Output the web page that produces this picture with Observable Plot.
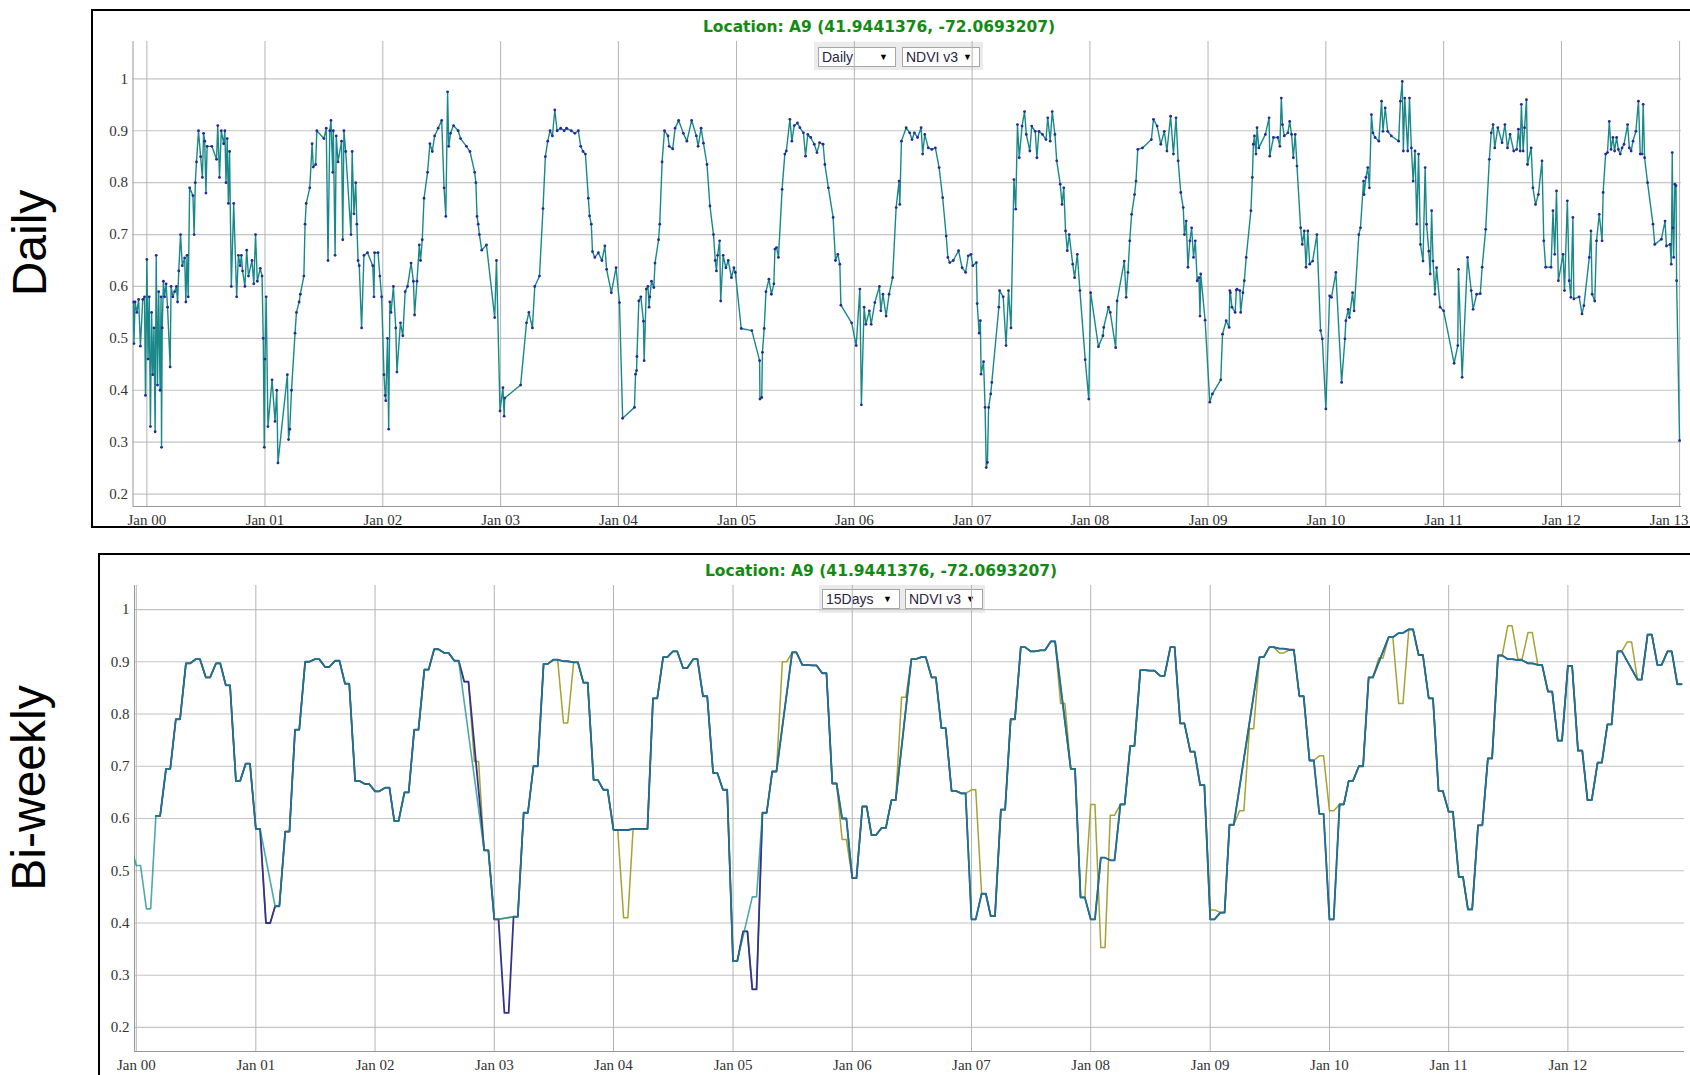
<!DOCTYPE html>
<html><head><meta charset="utf-8">
<script src="https://cdn.jsdelivr.net/npm/d3@7"></script>
<script src="https://cdn.jsdelivr.net/npm/@observablehq/plot@0.6"></script>
<style>
html,body{margin:0;padding:0;background:#fff}
body{width:1690px;height:1075px;overflow:hidden;position:relative;font-family:"Liberation Sans",Arial,sans-serif}
.panel{position:absolute;border:2px solid #000;box-sizing:border-box;background:#fff}
.side{position:absolute;font-family:"Liberation Sans",Arial,sans-serif;font-size:48px;line-height:48px;height:48px;color:#000;white-space:nowrap;transform:translate(-50%,-50%) rotate(-90deg)}
.title{position:absolute;font-family:"DejaVu Sans",Verdana,sans-serif;font-weight:bold;font-size:15.5px;line-height:18px;color:#138a13;white-space:nowrap;transform:translateX(-50%)}
.dd{position:absolute;background:#ebebeb}
.sel{position:absolute;border:1px solid #a6a6a6;background:#fff;font-family:"Liberation Sans",Arial,sans-serif;font-size:14px;line-height:18px;color:#2a2440;box-sizing:border-box;padding-left:3px;white-space:nowrap}
.sel span{position:absolute;right:7px;top:0;font-size:9px;color:#000}
.chart{position:absolute}
</style>
</head><body>
<div class="panel" style="left:91px;top:9px;width:1700px;height:519px"></div>
<div class="panel" style="left:98px;top:553px;width:1700px;height:540px"></div>
<div class="side" style="left:30px;top:243px">Daily</div>
<div class="side" style="left:29px;top:788px">Bi-weekly</div>
<div class="title" style="left:879px;top:18px">Location: A9 (41.9441376, -72.0693207)</div>
<div class="title" style="left:881px;top:562px">Location: A9 (41.9441376, -72.0693207)</div>
<div class="dd" style="left:814px;top:42px;width:169px;height:28px"></div>
<div class="sel" style="left:818px;top:47px;width:78px;height:20px">Daily<span>▼</span></div>
<div class="sel" style="left:902px;top:47px;width:78px;height:20px">NDVI v3<span>▼</span></div>
<div class="dd" style="left:819px;top:585px;width:166px;height:28px"></div>
<div class="sel" style="left:822px;top:589px;width:78px;height:20px">15Days<span>▼</span></div>
<div class="sel" style="left:905px;top:589px;width:78px;height:20px">NDVI v3<span>▼</span></div>
<div id="top" class="chart" style="left:94px;top:12px"></div>
<div id="bottom" class="chart" style="left:101px;top:556px"></div>
<script>
// ---------- Daily NDVI: [fractional year, NDVI] ----------
const daily2000 = [[1999.885,0.57],[1999.89,0.49],[1999.90,0.57],[1999.915,0.55],[1999.93,0.575],[1999.945,0.485],[1999.965,0.575],[1999.98,0.58],[1999.988,0.39],[2000.0,0.652],[2000.01,0.46],[2000.02,0.58],[2000.03,0.33],[2000.04,0.55],[2000.05,0.43],[2000.06,0.52],[2000.07,0.32],[2000.079,0.66],[2000.09,0.41],[2000.10,0.59],[2000.112,0.40],[2000.12,0.58],[2000.124,0.29],[2000.13,0.52],[2000.14,0.61],[2000.15,0.58],[2000.163,0.605],[2000.175,0.56],[2000.197,0.445],[2000.205,0.60],[2000.22,0.58],[2000.235,0.59],[2000.25,0.60],[2000.26,0.57],[2000.27,0.63],[2000.285,0.70],[2000.30,0.64],[2000.32,0.655],[2000.33,0.57],[2000.34,0.66],[2000.35,0.58],[2000.362,0.79],[2000.39,0.775],[2000.40,0.70],[2000.41,0.80],[2000.42,0.84],[2000.437,0.90],[2000.455,0.85],[2000.47,0.81],[2000.48,0.895],[2000.49,0.88],[2000.50,0.78],[2000.51,0.87],[2000.55,0.87],[2000.59,0.845],[2000.60,0.91],[2000.615,0.81],[2000.63,0.90],[2000.65,0.875],[2000.66,0.90],[2000.67,0.80],[2000.68,0.885],[2000.69,0.76],[2000.70,0.86],[2000.715,0.60],[2000.735,0.76],[2000.76,0.58],[2000.775,0.66],[2000.79,0.64],[2000.80,0.66],[2000.81,0.63],[2000.83,0.60],[2000.845,0.67],[2000.86,0.62],[2000.89,0.65],[2000.905,0.605],[2000.92,0.70],[2000.935,0.61],[2000.96,0.635],[2000.975,0.62],[2000.985,0.50],[2000.994,0.29]];
const daily2001 = [[2001.0,0.46],[2001.01,0.58],[2001.025,0.33],[2001.06,0.42],[2001.085,0.34],[2001.10,0.40],[2001.11,0.26],[2001.19,0.43],[2001.20,0.305],[2001.21,0.325],[2001.225,0.40],[2001.255,0.51],[2001.267,0.55],[2001.29,0.57],[2001.30,0.585],[2001.33,0.62],[2001.34,0.72],[2001.35,0.76],[2001.38,0.79],[2001.40,0.875],[2001.41,0.83],[2001.43,0.835],[2001.44,0.90],[2001.50,0.885],[2001.52,0.905],[2001.535,0.65],[2001.55,0.90],[2001.56,0.92],[2001.575,0.82],[2001.58,0.90],[2001.595,0.66],[2001.605,0.89],[2001.62,0.84],[2001.65,0.88],[2001.66,0.69],[2001.67,0.90],[2001.685,0.86],[2001.73,0.70],[2001.74,0.86],[2001.755,0.74],[2001.77,0.80],[2001.78,0.72],[2001.79,0.65],[2001.80,0.64],[2001.82,0.52],[2001.84,0.66],[2001.87,0.665],[2001.915,0.64],[2001.925,0.58],[2001.93,0.665],[2001.96,0.665],[2001.975,0.62],[2001.99,0.58]];
const daily2002 = [[2002.01,0.43],[2002.02,0.39],[2002.025,0.38],[2002.04,0.50],[2002.05,0.325],[2002.06,0.57],[2002.07,0.55],[2002.09,0.60],[2002.11,0.52],[2002.12,0.435],[2002.15,0.53],[2002.17,0.505],[2002.19,0.59],[2002.21,0.60],[2002.24,0.645],[2002.26,0.61],[2002.27,0.545],[2002.29,0.61],[2002.31,0.68],[2002.32,0.65],[2002.335,0.69],[2002.35,0.77],[2002.38,0.82],[2002.40,0.875],[2002.42,0.86],[2002.44,0.89],[2002.47,0.905],[2002.50,0.92],[2002.52,0.79],[2002.535,0.735],[2002.55,0.975],[2002.56,0.87],[2002.575,0.895],[2002.60,0.91],[2002.64,0.90],[2002.66,0.885],[2002.71,0.87],[2002.74,0.86],[2002.78,0.82],[2002.79,0.80],[2002.80,0.735],[2002.81,0.72],[2002.82,0.70],[2002.84,0.67],[2002.88,0.68],[2002.95,0.54],[2002.965,0.65],[2002.995,0.36]];
const daily2003 = [[2003.02,0.405],[2003.03,0.35],[2003.035,0.385],[2003.17,0.41],[2003.22,0.53],[2003.24,0.55],[2003.27,0.52],[2003.29,0.60],[2003.33,0.62],[2003.36,0.75],[2003.38,0.85],[2003.40,0.88],[2003.42,0.90],[2003.44,0.89],[2003.46,0.94],[2003.48,0.90],[2003.51,0.905],[2003.54,0.90],[2003.56,0.905],[2003.60,0.90],[2003.63,0.895],[2003.66,0.90],[2003.68,0.87],[2003.70,0.86],[2003.72,0.855],[2003.745,0.77],[2003.755,0.736],[2003.77,0.72],[2003.78,0.667],[2003.80,0.656],[2003.83,0.665],[2003.86,0.65],[2003.885,0.678],[2003.90,0.633],[2003.94,0.588],[2003.98,0.636]];
const daily2004 = [[2004.009,0.569],[2004.036,0.346],[2004.136,0.367],[2004.145,0.431],[2004.154,0.438],[2004.157,0.465],[2004.173,0.572],[2004.19,0.58],[2004.212,0.533],[2004.218,0.457],[2004.236,0.595],[2004.25,0.60],[2004.26,0.56],[2004.266,0.58],[2004.28,0.61],[2004.30,0.598],[2004.31,0.645],[2004.34,0.69],[2004.35,0.72],[2004.37,0.84],[2004.39,0.90],[2004.42,0.89],[2004.43,0.87],[2004.46,0.865],[2004.48,0.905],[2004.51,0.92],[2004.55,0.895],[2004.58,0.88],[2004.62,0.92],[2004.66,0.89],[2004.675,0.87],[2004.70,0.905],[2004.72,0.876],[2004.75,0.835],[2004.775,0.755],[2004.805,0.70],[2004.82,0.65],[2004.83,0.63],[2004.84,0.66],[2004.857,0.688],[2004.866,0.572],[2004.887,0.66],[2004.91,0.636],[2004.93,0.65],[2004.957,0.617],[2004.978,0.636],[2004.99,0.627]];
const daily2005 = [[2005.04,0.519],[2005.13,0.515],[2005.196,0.457],[2005.199,0.383],[2005.214,0.386],[2005.22,0.473],[2005.235,0.519],[2005.25,0.59],[2005.275,0.614],[2005.296,0.585],[2005.317,0.605],[2005.326,0.672],[2005.34,0.675],[2005.356,0.656],[2005.387,0.787],[2005.41,0.855],[2005.423,0.861],[2005.453,0.922],[2005.47,0.88],[2005.49,0.91],[2005.517,0.915],[2005.538,0.906],[2005.568,0.896],[2005.586,0.851],[2005.605,0.893],[2005.63,0.887],[2005.66,0.874],[2005.683,0.858],[2005.705,0.877],[2005.735,0.874],[2005.75,0.835],[2005.78,0.79],[2005.82,0.733],[2005.84,0.65],[2005.86,0.662],[2005.877,0.643],[2005.886,0.564],[2005.977,0.53]];
const daily2006 = [[2006.016,0.486],[2006.047,0.595],[2006.06,0.372],[2006.083,0.56],[2006.098,0.527],[2006.128,0.553],[2006.143,0.527],[2006.174,0.569],[2006.213,0.60],[2006.225,0.553],[2006.243,0.585],[2006.27,0.543],[2006.295,0.585],[2006.325,0.617],[2006.355,0.752],[2006.38,0.803],[2006.386,0.758],[2006.40,0.88],[2006.44,0.906],[2006.47,0.896],[2006.49,0.883],[2006.51,0.896],[2006.537,0.887],[2006.567,0.906],[2006.58,0.855],[2006.598,0.893],[2006.628,0.867],[2006.658,0.864],[2006.688,0.867],[2006.72,0.829],[2006.75,0.771],[2006.78,0.697],[2006.794,0.656],[2006.81,0.646],[2006.84,0.65],[2006.885,0.669],[2006.915,0.636],[2006.945,0.627],[2006.967,0.659],[2006.99,0.662]];
const daily2007 = [[2007.006,0.64],[2007.036,0.646],[2007.043,0.567],[2007.06,0.51],[2007.07,0.534],[2007.076,0.431],[2007.097,0.455],[2007.11,0.367],[2007.12,0.251],[2007.13,0.261],[2007.14,0.367],[2007.158,0.393],[2007.167,0.415],[2007.227,0.56],[2007.233,0.592],[2007.264,0.58],[2007.288,0.486],[2007.309,0.592],[2007.33,0.52],[2007.355,0.806],[2007.37,0.749],[2007.385,0.912],[2007.40,0.848],[2007.424,0.909],[2007.445,0.937],[2007.46,0.893],[2007.49,0.861],[2007.506,0.909],[2007.536,0.899],[2007.55,0.848],[2007.567,0.899],[2007.597,0.893],[2007.627,0.883],[2007.642,0.925],[2007.663,0.88],[2007.68,0.937],[2007.703,0.893],[2007.718,0.842],[2007.748,0.797],[2007.763,0.758],[2007.778,0.79],[2007.793,0.707],[2007.808,0.669],[2007.824,0.70],[2007.854,0.643],[2007.87,0.617],[2007.893,0.662],[2007.915,0.592],[2007.96,0.459],[2007.99,0.383]];
const daily2008 = [[2008.006,0.588],[2008.072,0.484],[2008.11,0.505],[2008.117,0.521],[2008.157,0.56],[2008.172,0.55],[2008.218,0.482],[2008.23,0.572],[2008.291,0.649],[2008.307,0.579],[2008.322,0.627],[2008.337,0.688],[2008.353,0.739],[2008.378,0.777],[2008.39,0.803],[2008.405,0.864],[2008.445,0.867],[2008.52,0.883],[2008.538,0.922],[2008.569,0.909],[2008.60,0.874],[2008.63,0.899],[2008.652,0.861],[2008.683,0.928],[2008.707,0.855],[2008.729,0.925],[2008.747,0.842],[2008.769,0.781],[2008.79,0.752],[2008.80,0.70],[2008.815,0.726],[2008.83,0.637],[2008.846,0.688],[2008.861,0.713],[2008.877,0.656],[2008.892,0.688],[2008.908,0.611],[2008.923,0.617],[2008.932,0.543],[2008.938,0.624],[2008.975,0.535]];
const daily2009 = [[2009.015,0.377],[2009.037,0.393],[2009.108,0.42],[2009.123,0.508],[2009.154,0.534],[2009.179,0.521],[2009.185,0.592],[2009.19,0.588],[2009.203,0.56],[2009.23,0.55],[2009.24,0.593],[2009.246,0.595],[2009.27,0.592],[2009.277,0.55],[2009.296,0.588],[2009.308,0.611],[2009.324,0.656],[2009.364,0.746],[2009.376,0.81],[2009.385,0.874],[2009.394,0.89],[2009.407,0.855],[2009.416,0.906],[2009.431,0.867],[2009.487,0.893],[2009.518,0.925],[2009.524,0.851],[2009.555,0.887],[2009.592,0.887],[2009.61,0.87],[2009.622,0.963],[2009.632,0.912],[2009.647,0.89],[2009.678,0.896],[2009.693,0.918],[2009.709,0.893],[2009.724,0.848],[2009.74,0.893],[2009.755,0.832],[2009.786,0.713],[2009.80,0.681],[2009.817,0.707],[2009.832,0.637],[2009.847,0.707],[2009.863,0.643],[2009.888,0.649],[2009.924,0.70],[2009.955,0.515],[2009.97,0.499]];
const daily2010 = [[2010.0,0.364],[2010.032,0.582],[2010.048,0.579],[2010.085,0.627],[2010.134,0.415],[2010.162,0.499],[2010.17,0.534],[2010.19,0.556],[2010.20,0.54],[2010.227,0.588],[2010.24,0.553],[2010.28,0.70],[2010.294,0.713],[2010.32,0.803],[2010.325,0.777],[2010.34,0.81],[2010.356,0.829],[2010.37,0.79],[2010.387,0.931],[2010.40,0.896],[2010.418,0.887],[2010.45,0.88],[2010.473,0.957],[2010.485,0.899],[2010.504,0.944],[2010.525,0.899],[2010.556,0.89],[2010.618,0.88],[2010.633,0.957],[2010.649,0.995],[2010.658,0.861],[2010.67,0.963],[2010.695,0.861],[2010.71,0.963],[2010.726,0.867],[2010.741,0.803],[2010.757,0.861],[2010.772,0.72],[2010.787,0.855],[2010.803,0.681],[2010.825,0.649],[2010.843,0.829],[2010.855,0.72],[2010.874,0.668],[2010.886,0.624],[2010.898,0.746],[2010.91,0.649],[2010.926,0.585],[2010.94,0.636],[2010.97,0.56]];
const daily2011 = [[2011.0,0.553],[2011.089,0.452],[2011.12,0.486],[2011.126,0.633],[2011.157,0.425],[2011.203,0.656],[2011.234,0.592],[2011.25,0.556],[2011.28,0.585],[2011.311,0.586],[2011.327,0.637],[2011.357,0.71],[2011.388,0.845],[2011.404,0.896],[2011.42,0.912],[2011.434,0.867],[2011.46,0.906],[2011.496,0.877],[2011.52,0.912],[2011.542,0.867],[2011.564,0.893],[2011.595,0.861],[2011.62,0.864],[2011.635,0.903],[2011.65,0.861],[2011.66,0.951],[2011.675,0.861],[2011.687,0.906],[2011.703,0.96],[2011.712,0.835],[2011.743,0.867],[2011.758,0.79],[2011.78,0.758],[2011.804,0.777],[2011.835,0.842],[2011.85,0.688],[2011.866,0.637],[2011.912,0.637],[2011.928,0.746],[2011.943,0.662],[2011.958,0.784],[2011.974,0.611]];
const daily2012 = [[2012.014,0.662],[2012.026,0.592],[2012.05,0.765],[2012.066,0.611],[2012.08,0.579],[2012.097,0.733],[2012.105,0.576],[2012.15,0.58],[2012.174,0.547],[2012.19,0.563],[2012.236,0.656],[2012.25,0.707],[2012.26,0.585],[2012.282,0.572],[2012.297,0.688],[2012.32,0.739],[2012.344,0.688],[2012.353,0.781],[2012.374,0.855],[2012.39,0.858],[2012.405,0.918],[2012.42,0.864],[2012.436,0.887],[2012.45,0.861],[2012.467,0.887],[2012.482,0.864],[2012.498,0.855],[2012.513,0.867],[2012.53,0.874],[2012.56,0.912],[2012.575,0.867],[2012.59,0.861],[2012.606,0.88],[2012.63,0.899],[2012.652,0.957],[2012.667,0.855],[2012.683,0.855],[2012.692,0.951],[2012.704,0.848],[2012.729,0.80],[2012.775,0.72],[2012.79,0.681],[2012.846,0.691],[2012.877,0.726],[2012.889,0.678],[2012.92,0.681],[2012.93,0.643],[2012.938,0.858],[2012.944,0.713],[2012.95,0.656],[2012.96,0.797],[2012.97,0.794],[2012.975,0.611],[2013.0,0.303]];

// ---------- Bi-weekly NDVI, one composite per month, first = Dec 1999 ----------
const biweeklyStart = [1999, 11]; // year, month index of first composite
const seriesTeal = [0.55,
  0.51,0.427,0.605,0.695,0.79,0.897,0.905,0.87,0.897,0.855,0.672,0.705,
  0.58,null,0.432,0.575,0.77,0.90,0.905,0.89,0.902,0.858,0.672,0.666,
  0.652,0.659,0.595,0.65,0.77,0.885,0.924,0.917,0.902,null,null,0.539,
  0.407,null,0.412,0.611,0.70,0.896,0.904,0.901,0.899,0.86,0.674,0.655,
  0.578,0.578,0.58,0.58,0.83,0.909,0.92,0.888,0.905,0.834,0.687,0.655,
  0.327,null,0.45,0.611,0.69,null,0.918,0.894,0.893,0.878,0.667,0.60,
  0.486,0.623,0.568,0.582,0.635,null,0.905,0.909,0.87,0.773,0.653,0.648,
  0.407,0.456,0.413,0.617,0.79,0.928,0.92,0.922,0.939,null,0.695,0.449,
  0.407,0.525,0.52,0.627,0.739,0.884,0.883,0.873,0.928,0.782,0.728,0.664,
  0.407,0.42,0.588,null,null,0.909,0.928,0.925,0.923,0.834,0.711,0.609,
  0.407,0.627,0.672,0.70,0.87,null,0.947,0.955,0.962,0.913,0.83,0.653,
  0.613,0.488,0.426,0.587,0.715,0.912,0.905,0.903,0.897,0.894,0.843,0.749,
  0.892,0.73,0.635,0.707,0.78,0.92,null,0.866,0.952,0.894,0.92,0.857];
const seriesPurple = [null,
  null,null,0.605,0.695,0.79,0.897,0.905,0.87,0.897,0.855,0.672,0.705,
  0.58,0.40,0.432,0.575,0.77,0.90,0.905,0.89,0.902,0.858,0.672,0.666,
  0.652,0.659,0.595,0.65,0.77,0.885,0.924,0.917,0.902,0.862,null,0.539,
  0.407,0.228,0.412,0.611,0.70,0.896,0.904,0.901,0.899,0.86,0.674,0.655,
  0.578,0.578,0.58,0.58,0.83,0.909,0.92,0.888,0.905,0.834,0.687,0.655,
  0.327,0.384,0.273,0.611,0.69,null,0.918,0.894,0.893,0.878,0.667,0.60,
  0.486,0.623,0.568,0.582,0.635,null,0.905,0.909,0.87,0.773,0.653,0.648,
  0.407,0.456,0.413,0.617,0.79,0.928,0.92,0.922,0.939,null,0.695,0.449,
  0.407,0.525,0.52,0.627,0.739,0.884,0.883,0.873,0.928,0.782,0.728,0.664,
  0.407,0.42,0.588,null,null,0.909,0.928,0.925,0.923,0.834,0.711,0.609,
  0.407,0.627,0.672,0.70,0.87,null,0.947,0.955,0.962,0.913,0.83,0.653,
  0.613,0.488,0.426,0.587,0.715,0.912,0.905,0.903,0.897,0.894,0.843,0.749,
  0.892,0.73,0.635,0.707,0.78,0.92,null,0.866,0.952,0.894,0.92,0.857];
const seriesOlive = [null,
  null,null,0.605,0.695,0.79,0.897,0.905,0.87,0.897,0.855,0.672,0.705,
  0.58,0.40,0.432,0.575,0.77,0.90,0.905,0.89,0.902,0.858,0.672,0.666,
  0.652,0.659,0.595,0.65,0.77,0.885,0.924,0.917,0.902,0.862,0.709,0.539,
  0.407,null,0.412,0.611,0.70,0.896,0.904,0.783,0.899,0.86,0.674,0.655,
  0.578,0.41,0.58,0.58,0.83,0.909,0.92,0.888,0.905,0.834,0.687,0.655,
  0.327,0.384,0.273,0.611,0.69,0.90,0.918,0.894,0.893,0.878,0.667,0.56,
  0.486,0.623,0.568,0.582,0.635,0.832,0.905,0.909,0.87,0.773,0.653,0.648,
  0.655,0.456,0.413,0.617,0.79,0.928,0.92,0.922,0.939,0.82,0.695,0.449,
  0.627,0.353,0.606,0.627,0.739,0.884,0.883,0.873,0.928,0.782,0.728,0.664,
  0.425,0.42,0.588,0.615,0.772,0.909,0.928,0.917,0.923,0.834,0.711,0.72,
  0.615,0.627,0.672,0.70,0.87,0.907,0.947,0.82,0.962,0.913,0.83,0.653,
  0.613,0.488,0.426,0.587,0.715,0.912,0.969,0.905,0.956,0.894,0.843,0.749,
  0.892,0.73,0.635,0.707,0.78,0.92,0.938,0.866,0.952,0.894,0.92,0.857];

const yTicks = [0.2,0.3,0.4,0.5,0.6,0.7,0.8,0.9,1];
const tickYearsTop = [2000,2001,2002,2003,2004,2005,2006,2007,2008,2009,2010,2011,2012];
const lastTickYearTop = 2013;
const tickYearsBottom = [2000,2001,2002,2003,2004,2005,2006,2007,2008,2009,2010,2011,2012];

// ---------- helpers ----------
function fracYear(t){const y=Math.floor(t+1e-9);const a=Date.UTC(y,0,1),b=Date.UTC(y+1,0,1);return new Date(a+(t-y)*(b-a));}
const dailyRows = [daily2000,daily2001,daily2002,daily2003,daily2004,daily2005,daily2006,daily2007,daily2008,daily2009,daily2010,daily2011,daily2012]
  .flat().map(([t,v])=>({date:fracYear(t),v}));
function composites(arr){
  const out=[];
  arr.forEach((v,i)=>{
    if(v==null) return;
    const m=biweeklyStart[1]+i; const y=biweeklyStart[0]+Math.floor(m/12); const mm=m%12;
    out.push({date:new Date(Date.UTC(y,mm,1)),v});
    out.push({date:new Date(Date.UTC(y,mm,14)),v});
  });
  return out;
}
const fmt = d3.utcFormat("%b %y");
const yFmt = d => String(+d.toFixed(1));
const jan = y => new Date(Date.UTC(y,0,1));
const serif = "Liberation Serif, Times New Roman, serif";

// ---------- top: Daily ----------
const topDomain=[new Date(Date.UTC(1999,10,19)), new Date(Date.UTC(2013,0,7))];
const topY=[0.176,1.072];
const topPlot = Plot.plot({
  width:1596, height:513,
  marginLeft:38.5, marginRight:9, marginTop:29, marginBottom:19,
  style:{fontFamily:serif, fontSize:"15px", color:"#333", background:"transparent", overflow:"visible"},
  x:{type:"utc", domain:topDomain, axis:null, label:null},
  y:{domain:topY, axis:null, label:null},
  marks:[
    Plot.gridY(yTicks,{stroke:"#c4c4c4",strokeOpacity:1,strokeWidth:1.2}),
    Plot.gridX([...tickYearsTop,lastTickYearTop].map(jan),{stroke:"#b4b4b4",strokeOpacity:1}),
    Plot.ruleX([topDomain[0]],{stroke:"#999"}),
    Plot.ruleY([topY[0]],{stroke:"#999"}),
    Plot.axisY(yTicks,{tickSize:0,tickPadding:5,tickFormat:yFmt,fontSize:15,fill:"#333",label:null}),
    Plot.axisX(tickYearsTop.map(jan),{tickSize:0,tickPadding:8,tickFormat:fmt,fontSize:15,fill:"#333",label:null}),
    Plot.axisX([jan(lastTickYearTop)],{tickSize:0,tickPadding:8,tickFormat:fmt,fontSize:15,fill:"#333",textAnchor:"end",dx:9,label:null}),
    Plot.line(dailyRows,{x:"date",y:"v",stroke:"#1a8888",strokeWidth:1.4,clip:true}),
    Plot.dot(dailyRows,{x:"date",y:"v",r:1.4,fill:"#27289a",stroke:null,clip:true})
  ]
});
document.getElementById("top").appendChild(topPlot);

// ---------- bottom: Bi-weekly ----------
const botDomain=[new Date(Date.UTC(1999,11,26,12)), new Date(Date.UTC(2012,11,23))];
const botY=[0.154,1.046];
const botPlot = Plot.plot({
  width:1589, height:519,
  marginLeft:33, marginRight:6, marginTop:29, marginBottom:24,
  style:{fontFamily:serif, fontSize:"15px", color:"#333", background:"transparent", overflow:"visible"},
  x:{type:"utc", domain:botDomain, axis:null, label:null},
  y:{domain:botY, axis:null, label:null},
  marks:[
    Plot.gridY(yTicks,{stroke:"#c4c4c4",strokeOpacity:1,strokeWidth:1.2}),
    Plot.gridX(tickYearsBottom.map(jan),{stroke:"#b4b4b4",strokeOpacity:1}),
    Plot.ruleX([botDomain[0]],{stroke:"#999"}),
    Plot.ruleY([botY[0]],{stroke:"#999"}),
    Plot.axisY(yTicks,{tickSize:0,tickPadding:5,tickFormat:yFmt,fontSize:15,fill:"#333",label:null}),
    Plot.axisX(tickYearsBottom.map(jan),{tickSize:0,tickPadding:7.5,tickFormat:fmt,fontSize:15,fill:"#333",label:null}),
    Plot.line(composites(seriesOlive),{x:"date",y:"v",stroke:"#a6a233",strokeWidth:1.5,clip:true}),
    Plot.line(composites(seriesPurple),{x:"date",y:"v",stroke:"#33338f",strokeWidth:1.8,clip:true}),
    Plot.line(composites(seriesTeal),{x:"date",y:"v",stroke:"#148c8c",strokeWidth:1.6,strokeOpacity:0.75,clip:true})
  ]
});
document.getElementById("bottom").appendChild(botPlot);
</script>
</body></html>
